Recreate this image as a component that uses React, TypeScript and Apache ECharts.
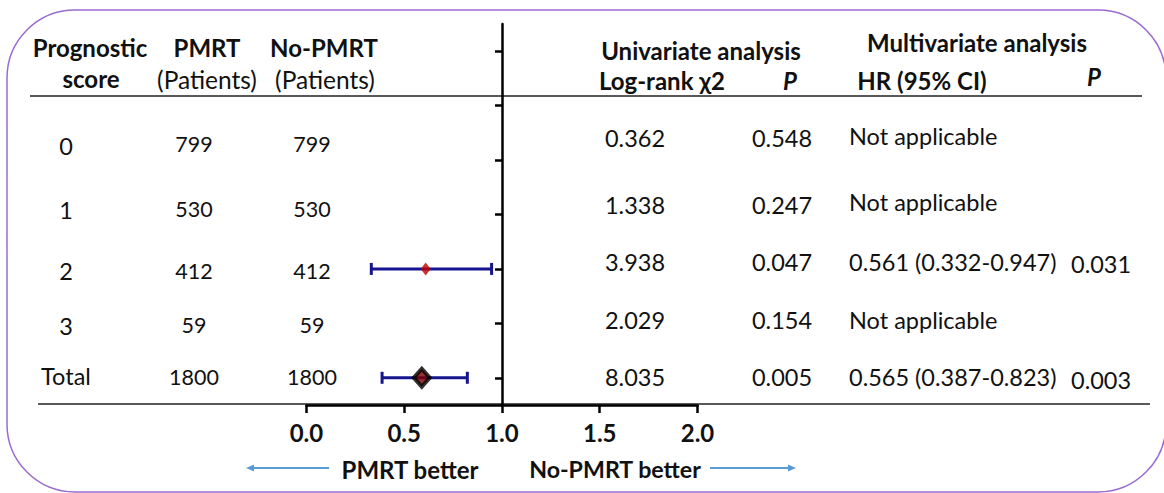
import React, { useEffect, useRef } from "react";
import * as echarts from "echarts";

// ---------- data ----------
const scores = ["0", "1", "2", "3", "Total"];
const pmrtPatients = [799, 530, 412, 59, 1800];
const noPmrtPatients = [799, 530, 412, 59, 1800];
const logRankChi2 = ["0.362", "1.338", "3.938", "2.029", "8.035"];
const uniP = ["0.548", "0.247", "0.047", "0.154", "0.005"];
const hrCI = [
  "Not applicable",
  "Not applicable",
  "0.561 (0.332-0.947)",
  "Not applicable",
  "0.565 (0.387-0.823)",
];
const multiP = ["", "", "0.031", "", "0.003"];
// plotted estimates
const plotEstimate: (number | null)[] = [null, null, 0.61, null, 0.59];
const ciLower: (number | null)[] = [null, null, 0.332, null, 0.387];
const ciUpper: (number | null)[] = [null, null, 0.947, null, 0.823];
// category slots of the vertical axis, bottom to top
const yCats = ["Total", "3", "2", "1", "0", "s5", "s6"];
const xTicks = [0, 0.5, 1, 1.5, 2];

// ---------- layout (not data) ----------
const FONT = "Lato";
const W = 1164;
const H = 493;
const rowYScore = [146, 210, 271, 326, 376];
const rowYN = [144, 209, 271, 325, 377];
const rowYUni = [138, 205, 262, 320, 377];
const rowYHR = [136, 202, 262, 320, 377];
const rowYMultiP = [0, 0, 264, 0, 380];

const NAVY = "#151590";

function txt(text: string, x: number, y: number, opts: any = {}) {
  const size = opts.size ?? (opts.bold ? 24 : 23.5);
  const weight = opts.bold ? "bold" : "normal";
  const style = opts.italic ? "italic" : "normal";
  return {
    type: "text",
    silent: true,
    z: 10,
    style: {
      text,
      x,
      y,
      fill: "#111",
      font: `${style} ${weight} ${size}px ${FONT}`,
      align: opts.align ?? "center",
      verticalAlign: "middle",
    },
  };
}

export default function App() {
  const ref = useRef<HTMLDivElement>(null);

  useEffect(() => {
    if (!ref.current) return;
    const chart = echarts.init(ref.current, undefined, { renderer: "svg" });

    const graphics: any[] = [];
    // rounded frame
    graphics.push({
      type: "rect",
      silent: true,
      shape: { x: 7, y: 10, width: 1159, height: 482, r: 68 },
      style: { fill: "none", stroke: "#9a6bd0", lineWidth: 1.5 },
    });
    // header rule and bottom rule
    graphics.push({
      type: "line",
      silent: true,
      shape: { x1: 30, y1: 96, x2: 1142, y2: 96 },
      style: { stroke: "#222", lineWidth: 1.6 },
    });
    graphics.push({
      type: "line",
      silent: true,
      shape: { x1: 38, y1: 404, x2: 1150, y2: 404 },
      style: { stroke: "#222", lineWidth: 1.6 },
    });

    // headers
    graphics.push(txt("Prognostic", 90, 47, { bold: true }));
    graphics.push(txt("score", 91, 78, { bold: true }));
    graphics.push(txt("PMRT", 207, 47, { bold: true }));
    graphics.push(txt("(Patients)", 207, 79, { size: 24.5 }));
    graphics.push(txt("No-PMRT", 324, 47, { bold: true }));
    graphics.push(txt("(Patients)", 325, 79, { size: 24.5 }));
    graphics.push(txt("Univariate analysis", 701, 50, { bold: true }));
    graphics.push(txt("Log-rank χ2", 662, 80, { bold: true }));
    graphics.push(txt("P", 790, 80, { bold: true, italic: true }));
    graphics.push(txt("Multivariate analysis", 977, 42, { bold: true }));
    graphics.push(txt("HR (95% CI)", 922, 80, { bold: true }));
    graphics.push(txt("P", 1094, 76, { bold: true, italic: true }));

    // table rows
    scores.forEach((s, i) => {
      graphics.push(txt(s, 66, rowYScore[i]));
      graphics.push(txt(String(pmrtPatients[i]), 194, rowYN[i], { size: 21.5 }));
      graphics.push(txt(String(noPmrtPatients[i]), 312, rowYN[i], { size: 21.5 }));
      graphics.push(txt(logRankChi2[i], 635, rowYUni[i]));
      graphics.push(txt(uniP[i], 782, rowYUni[i]));
      graphics.push(txt(hrCI[i], 849, rowYHR[i], { align: "left" }));
      if (multiP[i]) graphics.push(txt(multiP[i], 1071, rowYMultiP[i], { align: "left" }));
    });

    // favour arrows
    const ARROW = "#5b9bd5";
    graphics.push({
      type: "line",
      silent: true,
      shape: { x1: 329, y1: 468, x2: 252, y2: 468 },
      style: { stroke: ARROW, lineWidth: 2 },
    });
    graphics.push({
      type: "polygon",
      silent: true,
      shape: { points: [[246, 468], [254, 464.5], [254, 471.5]] },
      style: { fill: ARROW },
    });
    graphics.push({
      type: "line",
      silent: true,
      shape: { x1: 710, y1: 468, x2: 789, y2: 468 },
      style: { stroke: ARROW, lineWidth: 2 },
    });
    graphics.push({
      type: "polygon",
      silent: true,
      shape: { points: [[796, 468], [788, 464.5], [788, 471.5]] },
      style: { fill: ARROW },
    });
    graphics.push(txt("PMRT better", 410, 469, { bold: true }));
    graphics.push(txt("No-PMRT better", 615, 469, { bold: true, size: 23.2 }));

    const ciData: any[] = [];
    const ptData: any[] = [];
    scores.forEach((s, i) => {
      const lo = ciLower[i];
      const hi = ciUpper[i];
      const est = plotEstimate[i];
      const cat = yCats.indexOf(s);
      if (lo != null && hi != null) ciData.push([lo, hi, cat]);
      if (est != null) {
        const isTotal = s === "Total";
        ptData.push({
          value: [est, cat],
          symbolSize: isTotal ? [16, 18] : [10, 13],
          itemStyle: isTotal
            ? { color: "#7a0000", borderColor: "#000", borderWidth: 4 }
            : { color: "#c00000" },
        });
      }
    });

    const option: any = {
      animation: false,
      backgroundColor: "#fff",
      grid: [
        { left: 306.4, width: 391.1, top: 24, height: 381 },
        { left: 502, width: 20, top: 24, height: 381 },
      ],
      xAxis: [
        {
          gridIndex: 0,
          type: "value",
          min: 0,
          max: 2,
          interval: 0.5,
          splitLine: { show: false },
          axisLine: { show: true, onZero: false, lineStyle: { color: "#000", width: 2.5 } },
          axisTick: { show: true, length: 8, lineStyle: { color: "#000", width: 2.5 } },
          axisLabel: {
            show: true,
            margin: 15,
            color: "#111",
            fontFamily: FONT,
            fontWeight: "bold",
            fontSize: 24,
            formatter: (v: number) => (xTicks.includes(v) ? v.toFixed(1) : ""),
          },
        },
        { gridIndex: 1, type: "value", min: 0, max: 1, show: false },
      ],
      yAxis: [
        {
          gridIndex: 0,
          type: "category",
          data: yCats,
          show: false,
        },
        {
          gridIndex: 1,
          type: "category",
          data: yCats,
          axisLine: { show: true, onZero: false, lineStyle: { color: "#000", width: 2.5 } },
          axisTick: { show: true, alignWithLabel: true, length: 7, lineStyle: { color: "#000", width: 2.5 } },
          axisLabel: { show: false },
          splitLine: { show: false },
        },
      ],
      series: [
        {
          type: "custom",
          xAxisIndex: 0,
          yAxisIndex: 0,
          z: 3,
          encode: { x: [0, 1], y: 2 },
          data: ciData,
          renderItem: (params: any, api: any) => {
            const a = api.coord([api.value(0), api.value(2)]);
            const b = api.coord([api.value(1), api.value(2)]);
            const capH = 6;
            const st = { stroke: NAVY, lineWidth: 3 };
            return {
              type: "group",
              children: [
                { type: "line", shape: { x1: a[0], y1: a[1], x2: b[0], y2: b[1] }, style: st },
                { type: "line", shape: { x1: a[0], y1: a[1] - capH, x2: a[0], y2: a[1] + capH }, style: st },
                { type: "line", shape: { x1: b[0], y1: b[1] - capH, x2: b[0], y2: b[1] + capH }, style: st },
              ],
            };
          },
        },
        {
          type: "scatter",
          xAxisIndex: 0,
          yAxisIndex: 0,
          z: 4,
          symbol: "diamond",
          data: ptData,
        },
      ],
      graphic: graphics,
    };

    chart.setOption(option);
    return () => chart.dispose();
  }, []);

  return (
    <div
      ref={ref}
      style={{ position: "fixed", left: 0, top: 0, width: W, height: H, background: "#fff" }}
    />
  );
}
